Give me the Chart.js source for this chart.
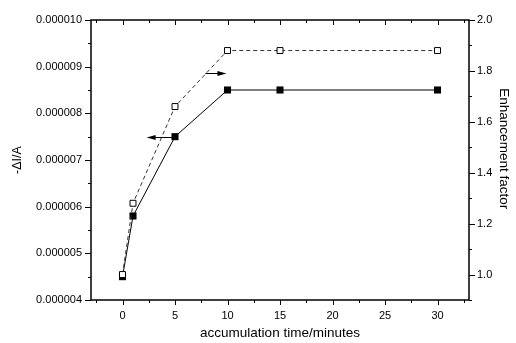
<!DOCTYPE html>
<html><head><meta charset="utf-8">
<script src="https://cdn.jsdelivr.net/npm/chart.js@4.4.0/dist/chart.umd.min.js"></script>
<style>html,body{margin:0;padding:0;background:#fff}#wrap{width:516px;height:343px}</style>
</head><body><div id="wrap"><canvas id="c" width="516" height="343"></canvas></div>
<script>
// Data
const times = [0, 1, 5, 10, 15, 30];
const currentDrop = [4.5e-6, 5.8e-6, 7.5e-6, 8.5e-6, 8.5e-6, 8.5e-6];   // left axis, filled squares
const enhancement = [1.0, 1.28, 1.66, 1.88, 1.88, 1.88];               // right axis, open squares
const xTickValues = [0, 5, 10, 15, 20, 25, 30];
const yLeftTickValues = [4e-6, 5e-6, 6e-6, 7e-6, 8e-6, 9e-6, 10e-6];
const yRightTickValues = [1.0, 1.2, 1.4, 1.6, 1.8, 2.0];
// arrows: [xFrom, xTo, yValue(left axis)]
const arrowLeft = [5, 2.3, 7.5e-6];
const arrowRight = [7.9, 9.9, 8.86e-6];

const FONT = '"Liberation Sans", Arial, sans-serif';

const frameTicks = {
  id: 'frameTicks',
  afterDraw(chart) {
    const ctx = chart.ctx, a = chart.chartArea;
    const sx = chart.scales.x, sl = chart.scales.y, sr = chart.scales.y2;
    ctx.save();
    ctx.strokeStyle = '#000';
    ctx.lineWidth = 1.5;
    ctx.strokeRect(a.left, a.top, a.right - a.left, a.bottom - a.top);
    ctx.lineWidth = 1;
    ctx.beginPath();
    for (let v = -2.5; v <= 32.5; v += 2.5) {
      const px = Math.round(sx.getPixelForValue(v)) + 0.5;
      const major = Math.abs(v % 5) < 1e-9;
      const L = major ? 5 : 3;
      ctx.moveTo(px, a.bottom); ctx.lineTo(px, a.bottom + L);
      ctx.moveTo(px, a.top); ctx.lineTo(px, a.top + L);
    }
    for (let i = 0; i <= 12; i++) {
      const v = 4e-6 + i * 0.5e-6;
      const py = Math.round(sl.getPixelForValue(v)) + 0.5;
      const L = (i % 2 === 0) ? 6 : 3;
      ctx.moveTo(a.left, py); ctx.lineTo(a.left - L, py);
    }
    for (let i = 0; i <= 11; i++) {
      const v = 0.9 + i * 0.1;
      const py = Math.round(sr.getPixelForValue(v)) + 0.5;
      const L = (i % 2 === 1) ? 6 : 3;
      ctx.moveTo(a.right, py); ctx.lineTo(a.right + L, py);
    }
    ctx.stroke();
    function arrow(spec) {
      const x1 = sx.getPixelForValue(spec[0]), x2 = sx.getPixelForValue(spec[1]);
      const y = Math.round(sl.getPixelForValue(spec[2])) + 0.5;
      const dir = Math.sign(x2 - x1);
      ctx.beginPath();
      ctx.moveTo(x1, y); ctx.lineTo(x2 - dir * 7, y);
      ctx.stroke();
      ctx.beginPath();
      ctx.moveTo(x2, y);
      ctx.lineTo(x2 - dir * 9, y - 2.5);
      ctx.lineTo(x2 - dir * 9, y + 2.5);
      ctx.closePath();
      ctx.fillStyle = '#000';
      ctx.fill();
    }
    arrow(arrowLeft);
    arrow(arrowRight);
    ctx.restore();
  }
};

new Chart(document.getElementById('c'), {
  type: 'line',
  data: {
    datasets: [
      {
        label: 'enhancement',
        data: times.map((t, i) => ({x: t, y: enhancement[i]})),
        yAxisID: 'y2',
        borderColor: '#333',
        borderWidth: 1,
        borderDash: [4, 3],
        pointStyle: 'rect',
        pointRadius: 4.2,
        pointBorderWidth: 1,
        pointBorderColor: '#000',
        pointBackgroundColor: '#fff',
        tension: 0,
        order: 0
      },
      {
        label: 'current',
        data: times.map((t, i) => ({x: t, y: currentDrop[i]})),
        yAxisID: 'y',
        borderColor: '#000',
        borderWidth: 1,
        pointStyle: 'rect',
        pointRadius: 5,
        pointBorderWidth: 0,
        pointBackgroundColor: '#000',
        tension: 0,
        order: 1
      }
    ]
  },
  options: {
    responsive: false,
    animation: false,
    devicePixelRatio: 1,
    layout: {padding: {top: 20, left: 0, right: 0, bottom: 0}},
    plugins: {legend: {display: false}, tooltip: {enabled: false}},
    scales: {
      x: {
        type: 'linear', min: -3, max: 33,
        grid: {display: false, drawTicks: false, tickLength: 0}, border: {display: false},
        afterBuildTicks: s => { s.ticks = xTickValues.map(v => ({value: v})); },
        afterFit: s => { s.height = 43; },
        ticks: {color: '#000', font: {family: FONT, size: 11}, padding: 9, maxRotation: 0,
                callback: v => String(v)},
        title: {display: true, text: 'accumulation time/minutes', color: '#000',
                font: {family: FONT, size: 13.5}, padding: {top: 0, bottom: 2}}
      },
      y: {
        type: 'linear', position: 'left', min: 4e-6, max: 10e-6,
        grid: {display: false, drawTicks: false, tickLength: 0}, border: {display: false},
        afterBuildTicks: s => { s.ticks = yLeftTickValues.map(v => ({value: v})); },
        afterFit: s => { s.width = 91; },
        ticks: {color: '#000', font: {family: FONT, size: 11}, padding: 9,
                callback: v => v.toFixed(6)},
        title: {display: true, text: '-ΔI/A', color: '#000',
                font: {family: FONT, size: 12.5}, padding: {top: 10, bottom: 0}}
      },
      y2: {
        type: 'linear', position: 'right', min: 0.9, max: 2.0,
        grid: {display: false, drawTicks: false, tickLength: 0}, border: {display: false},
        afterBuildTicks: s => { s.ticks = yRightTickValues.map(v => ({value: v})); },
        afterFit: s => { s.width = 47; },
        ticks: {color: '#000', font: {family: FONT, size: 11}, padding: 8,
                callback: v => v.toFixed(1)},
        title: {display: true, text: 'Enhancement factor      ', color: '#000',
                font: {family: FONT, size: 13.5}, padding: {top: 4, bottom: 0}}
      }
    }
  },
  plugins: [frameTicks]
});
</script></body></html>
